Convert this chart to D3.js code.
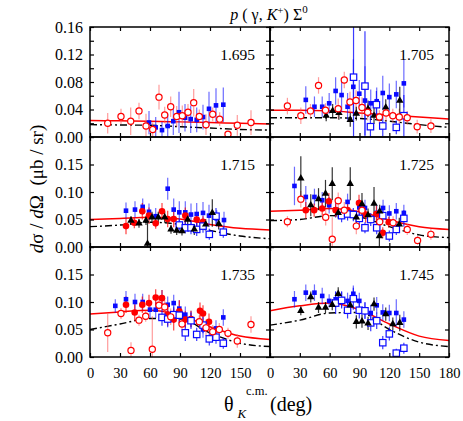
<!DOCTYPE html>
<html><head><meta charset="utf-8">
<script src="https://cdn.jsdelivr.net/npm/d3@7"></script>
<style>body{margin:0;background:#fff}</style>
</head><body><svg id="c" width="463" height="421"></svg>
<script>
// ---------- DATA ([theta_deg, dsigma, error]) ----------
const energies = ["1.695","1.705","1.715","1.725","1.735","1.745"];
const xTicks = [0,30,60,90,120,150,180];
const yTicksTop = [0,0.02,0.04,0.06,0.08,0.10,0.12,0.14,0.16];
const yLabelsTop = [0,0.04,0.08,0.12,0.16];
const yTicksLow = [0,0.05,0.10,0.15,0.20];
const yLabelsLow = [0,0.05,0.10,0.15];
const modelAngles = [0,30,60,90,120,150,180];

const redModel_1695 = [0.024,0.0235,0.023,0.022,0.021,0.020,0.019];
const blackModel_1695 = [0.018,0.0175,0.017,0.015,0.013,0.011,0.010];
const redModel_1705 = [0.039,0.039,0.038,0.035,0.032,0.029,0.026];
const blackModel_1705 = [0.028,0.028,0.028,0.027,0.023,0.018,0.014];
const redModel_1715 = [0.050,0.052,0.054,0.051,0.041,0.034,0.031];
const blackModel_1715 = [0.037,0.040,0.045,0.041,0.030,0.020,0.015];
const redModel_1725 = [0.065,0.067,0.070,0.064,0.049,0.037,0.032];
const blackModel_1725 = [0.048,0.050,0.057,0.054,0.037,0.022,0.017];
const redModel_1735 = [0.078,0.082,0.085,0.076,0.055,0.038,0.032];
const blackModel_1735 = [0.050,0.060,0.070,0.069,0.044,0.025,0.019];
const redModel_1745 = [0.084,0.093,0.098,0.086,0.060,0.038,0.030];
const blackModel_1745 = [0.058,0.067,0.080,0.081,0.050,0.027,0.019];

const redOpen_1695 = [[17.7,0.020,0.015],[31,0.030,0.011],[40.7,0.023,0.02],[49,0.038,0.012],[56,0.016,0.018],[62.7,0.011,0.010],[69,0.058,0.018],[74.7,0.032,0.012],[80.7,0.044,0.015],[86.7,0.030,0.015],[92.3,0.031,0.015],[98,0.036,0.012],[103.7,0.050,0.02],[109.3,0.030,0.010],[116,0.018,0.015],[122.7,0.033,0.010],[129.7,0.026,0.010],[138,0.004,0.003],[147.3,0.017,0.015],[161,0.021,0.018]];
const blueFill_1695 = [[59,0.021,0.017],[65.7,0.014,0.015],[72,0.010,0.012],[77.7,0.016,0.018],[83.3,0.023,0.02],[89,0.036,0.03],[95,0.028,0.02],[100.7,0.026,0.02],[106.7,0.025,0.018],[113,0.029,0.018],[119,0.041,0.025],[126,0.046,0.025],[133.3,0.047,0.025]];

const redOpen_1705 = [[17.5,0.045,0.012],[31,0.031,0.012],[40.7,0.038,0.010],[48.8,0.075,0.012],[55.8,0.039,0.010],[68.6,0.041,0.015],[74.7,0.083,0.012],[80.4,0.051,0.015],[86.5,0.053,0.015],[92.5,0.043,0.015],[98.2,0.036,0.012],[110,0.029,0.010],[116.7,0.035,0.012],[123.5,0.031,0.010],[130,0.029,0.012],[138,0.028,0.010],[148,0.015,0.010],[161.8,0.016,0.010]];
const blueFill_1705 = [[36,0.054,0.02],[44.7,0.044,0.015],[52.5,0.044,0.015],[59.5,0.049,0.015],[66,0.067,0.02],[72,0.061,0.025],[78,0.044,0.02],[83.8,0.073,0.04],[89.8,0.063,0.02],[95.5,0.053,0.05],[101.3,0.049,0.02],[107.3,0.052,0.02],[113.4,0.064,0.025],[120,0.058,0.02],[127,0.062,0.02],[134.6,0.078,0.035]];
const blueOpen_1705 = [[84,0.087,0.09],[95.5,0.074,0.08],[107,0.047,0.02],[101,0.015,0.015],[113.4,0.016,0.015],[127,0.014,0.01],[134.6,0.031,0.03]];
const tri_1705 = [[56.5,0.031,0.008],[63,0.038,0.010],[69.3,0.035,0.010],[80.7,0.025,0.010],[86.8,0.034,0.010],[98.6,0.041,0.012],[104.6,0.031,0.012],[116.4,0.043,0.012],[130.5,0.053,0.02]];

const redFill_1715 = [[36,0.038,0.015],[44.3,0.044,0.010],[52.3,0.065,0.015],[59,0.057,0.015],[65.7,0.043,0.010],[72,0.065,0.015],[77.7,0.051,0.015],[83.7,0.051,0.015],[95.3,0.057,0.015],[106.7,0.050,0.012],[113,0.046,0.010]];
const blueFill_1715 = [[36,0.066,0.015],[45,0.068,0.015],[52.7,0.073,0.015],[59,0.064,0.015],[65.7,0.056,0.015],[77.7,0.106,0.02],[83.7,0.068,0.02],[89.3,0.063,0.02],[95.3,0.063,0.02],[101,0.059,0.02],[106.7,0.060,0.02],[113,0.062,0.02],[119,0.057,0.02],[126.7,0.052,0.015],[134,0.049,0.015]];
const blueOpen_1715 = [[89.3,0.040,0.010],[95.3,0.035,0.010],[101,0.035,0.012],[106.7,0.032,0.012],[113,0.038,0.012],[119.3,0.023,0.010],[126,0.056,0.015],[133.3,0.027,0.010]];
const tri_1715 = [[41,0.048,0.008],[49,0.043,0.008],[56,0.048,0.008],[57.5,0.006,0.04],[62,0.054,0.010],[68.3,0.054,0.010],[74.7,0.054,0.010],[81,0.032,0.008],[86.7,0.030,0.008],[92,0.029,0.008],[97.7,0.050,0.012],[104.3,0.032,0.010],[115.7,0.041,0.010],[122.3,0.062,0.025],[128.7,0.042,0.010]];

const redOpen_1725 = [[17.5,0.046,0.010],[31,0.087,0.015],[56,0.054,0.015],[62.6,0.014,0.04],[68.6,0.084,0.015],[74.7,0.067,0.015],[86.8,0.038,0.015],[92.5,0.067,0.015],[110.3,0.046,0.015],[123.8,0.044,0.012],[138,0.032,0.010],[148.4,0.012,0.008],[161.8,0.023,0.010]];
const redFill_1725 = [[36,0.067,0.015],[44.4,0.067,0.012],[52.5,0.070,0.012],[59.2,0.083,0.015],[66,0.067,0.012],[78,0.067,0.015],[89.5,0.080,0.015],[96.2,0.059,0.015],[107,0.060,0.015],[113.4,0.026,0.010],[119.4,0.045,0.010]];
const blueFill_1725 = [[24.6,0.111,0.035],[36,0.091,0.02],[44.7,0.091,0.015],[52.5,0.085,0.015],[59.5,0.076,0.015],[66,0.068,0.015],[78,0.082,0.015],[89.8,0.072,0.015],[95.5,0.071,0.015],[107.3,0.062,0.015],[113.7,0.071,0.015],[120,0.061,0.015],[127,0.065,0.015],[134.6,0.062,0.015]];
const blueOpen_1725 = [[72,0.057,0.012],[78,0.060,0.012],[83.8,0.059,0.012],[89.8,0.052,0.012],[95.5,0.035,0.010],[101.3,0.050,0.012],[107.3,0.035,0.012],[113.4,0.057,0.012],[120,0.020,0.010],[127,0.032,0.010],[134.6,0.052,0.015]];
const tri_1725 = [[31,0.125,0.04],[41,0.076,0.02],[48.8,0.087,0.02],[55.8,0.097,0.025],[62.6,0.115,0.03],[68.6,0.062,0.010],[80.7,0.115,0.03],[86.8,0.054,0.010],[92.5,0.078,0.02],[98.6,0.058,0.012],[104.6,0.079,0.03],[110.3,0.065,0.012],[110,0.020,0.02],[130,0.041,0.012]];

const redOpen_1735 = [[17.7,0.044,0.035],[31,0.079,0.010],[41,0.012,0.015],[49,0.067,0.010],[55.7,0.074,0.010],[62.3,0.014,0.06],[69,0.094,0.012],[74.7,0.091,0.012],[80.7,0.073,0.015],[92,0.060,0.015],[109.3,0.064,0.012],[116,0.053,0.015],[122.7,0.046,0.012],[129.3,0.050,0.012],[138,0.043,0.010],[147.3,0.029,0.012],[161,0.059,0.015]];
const redFill_1735 = [[36,0.095,0.015],[44.7,0.081,0.015],[52.3,0.095,0.015],[59,0.098,0.015],[65.7,0.108,0.015],[72,0.107,0.015],[77.7,0.077,0.02],[83.7,0.068,0.02],[89.3,0.083,0.02],[95.3,0.068,0.015],[101,0.069,0.015],[110,0.084,0.015],[113,0.079,0.015],[119,0.064,0.015]];
const blueFill_1735 = [[25.3,0.093,0.012],[36,0.105,0.015],[45,0.100,0.015],[52.7,0.100,0.015],[60,0.086,0.015],[65.7,0.086,0.015],[72,0.107,0.015],[77.7,0.095,0.015],[83.7,0.098,0.015],[89.3,0.088,0.015],[95.3,0.077,0.015],[101,0.069,0.015],[113,0.050,0.015],[126,0.052,0.015],[133.3,0.072,0.015]];
const blueOpen_1735 = [[72,0.072,0.015],[77.7,0.069,0.015],[83.7,0.077,0.015],[89.3,0.076,0.015],[95.3,0.044,0.015],[101,0.066,0.015],[106.7,0.041,0.012],[113,0.058,0.015],[119.3,0.033,0.012],[126,0.036,0.012],[133.3,0.025,0.010]];

const blueFill_1745 = [[24.6,0.105,0.015],[36,0.117,0.015],[44.7,0.117,0.015],[52.5,0.111,0.015],[59.5,0.102,0.012],[66,0.105,0.015],[72,0.105,0.015],[78,0.102,0.015],[83.8,0.115,0.015],[89.8,0.102,0.015],[95.5,0.085,0.015],[101.3,0.080,0.015],[107.3,0.094,0.015],[113.4,0.081,0.015],[120,0.080,0.015],[127,0.080,0.025],[134.6,0.068,0.015]];
const blueOpen_1745 = [[66,0.098,0.02],[72,0.103,0.015],[78,0.085,0.015],[83.8,0.106,0.02],[89.8,0.085,0.015],[95.5,0.084,0.015],[101.3,0.062,0.015],[107.3,0.066,0.015],[113.4,0.026,0.012],[120,0.042,0.012],[127,0.007,0.008],[134.6,0.016,0.010]];
const tri_1745 = [[31,0.084,0.008],[41,0.109,0.010],[48.8,0.090,0.010],[55.8,0.090,0.010],[62.6,0.095,0.010],[68.6,0.115,0.012],[80.7,0.094,0.015],[86.8,0.064,0.012],[92.5,0.065,0.012],[98.6,0.061,0.012],[104.6,0.096,0.012],[116.4,0.078,0.012],[123.5,0.060,0.012],[130.5,0.062,0.015]];

// ---------- PANEL TABLE ----------
const panels = [
  {e:energies[0], row:0, col:0, redModel:redModel_1695, blackModel:blackModel_1695, redOpen:redOpen_1695, redFill:[], blueFill:blueFill_1695, blueOpen:[], tri:[]},
  {e:energies[1], row:0, col:1, redModel:redModel_1705, blackModel:blackModel_1705, redOpen:redOpen_1705, redFill:[], blueFill:blueFill_1705, blueOpen:blueOpen_1705, tri:tri_1705},
  {e:energies[2], row:1, col:0, redModel:redModel_1715, blackModel:blackModel_1715, redOpen:[], redFill:redFill_1715, blueFill:blueFill_1715, blueOpen:blueOpen_1715, tri:tri_1715},
  {e:energies[3], row:1, col:1, redModel:redModel_1725, blackModel:blackModel_1725, redOpen:redOpen_1725, redFill:redFill_1725, blueFill:blueFill_1725, blueOpen:blueOpen_1725, tri:tri_1725},
  {e:energies[4], row:2, col:0, redModel:redModel_1735, blackModel:blackModel_1735, redOpen:redOpen_1735, redFill:redFill_1735, blueFill:blueFill_1735, blueOpen:blueOpen_1735, tri:[]},
  {e:energies[5], row:2, col:1, redModel:redModel_1745, blackModel:blackModel_1745, redOpen:[], redFill:[], blueFill:blueFill_1745, blueOpen:blueOpen_1745, tri:tri_1745},
];

// ---------- LAYOUT ----------
const FONT = "'Liberation Serif', 'Times New Roman', monospace";
const svg = d3.select("#c");
const colX = [90, 270], colW = [180, 179];
const rowY = [27, 137, 247], rowH = 110;
const RED = "#ff0000", BLUE = "#0a0aff";

panels.forEach((p, i) => {
  const w = colW[p.col], h = rowH;
  const g = svg.append("g").attr("transform", `translate(${colX[p.col]},${rowY[p.row]})`);
  const x = d3.scaleLinear().domain([0,180]).range([0,w]);
  const yDom = p.row === 0 ? [0,0.16] : [0,0.20];
  const y = d3.scaleLinear().domain(yDom).range([h,0]);
  const clipId = "clip"+i;
  g.append("clipPath").attr("id", clipId).append("rect").attr("width", w).attr("height", h);
  const plot = g.append("g").attr("clip-path", `url(#${clipId})`);

  const line = d3.line().x(d => x(d[0])).y(d => y(d[1])).curve(d3.curveMonotoneX);
  plot.append("path").datum(modelAngles.map((a,k)=>[a,p.redModel[k]]))
    .attr("d", line).attr("fill","none").attr("stroke",RED).attr("stroke-width",1.5);
  plot.append("path").datum(modelAngles.map((a,k)=>[a,p.blackModel[k]]))
    .attr("d", line).attr("fill","none").attr("stroke","#000").attr("stroke-width",1.4)
    .attr("stroke-dasharray","7,3,2,3");

  function errBars(data, color, op) {
    plot.append("g").selectAll("line").data(data).join("line")
      .attr("x1", d=>x(d[0])).attr("x2", d=>x(d[0]))
      .attr("y1", d=>y(d[1]-d[2])).attr("y2", d=>y(d[1]+d[2]))
      .attr("stroke", color).attr("stroke-width", 1.2).attr("stroke-opacity", op);
  }
  errBars(p.redOpen, "#ff5a5a", 0.6);
  errBars(p.blueFill, BLUE, 0.6);
  errBars(p.redFill, RED, 0.75);
  errBars(p.blueOpen, BLUE, 0.8);
  errBars(p.tri, "#000", 0.8);

  plot.append("g").selectAll("rect").data(p.blueFill).join("rect")
    .attr("x", d=>x(d[0])-2.3).attr("y", d=>y(d[1])-2.3).attr("width",4.6).attr("height",4.6)
    .attr("fill", BLUE);
  plot.append("g").selectAll("circle").data(p.redFill).join("circle")
    .attr("cx", d=>x(d[0])).attr("cy", d=>y(d[1])).attr("r", 3.3).attr("fill", RED);
  plot.append("g").selectAll("rect").data(p.blueOpen).join("rect")
    .attr("x", d=>x(d[0])-3.2).attr("y", d=>y(d[1])-3.2).attr("width",6.4).attr("height",6.4)
    .attr("fill","#fff").attr("stroke", BLUE).attr("stroke-width",1.2);
  const triSym = d3.symbol().type(d3.symbolTriangle).size(24);
  plot.append("g").selectAll("path").data(p.tri).join("path")
    .attr("transform", d=>`translate(${x(d[0])},${y(d[1])})`).attr("d", triSym).attr("fill","#000");
  plot.append("g").selectAll("circle").data(p.redOpen).join("circle")
    .attr("cx", d=>x(d[0])).attr("cy", d=>y(d[1])).attr("r", 3.1)
    .attr("fill","#fff").attr("stroke", RED).attr("stroke-width",1.2);

  // axes (inward ticks on all sides)
  const yTicks = p.row === 0 ? yTicksTop : yTicksLow;
  const yLabels = p.row === 0 ? yLabelsTop : yLabelsLow;
  const fmt2 = d3.format(".2f");
  const near = (v, arr) => arr.some(a => Math.abs(a - v) < 1e-9);
  const clean = sel => { sel.attr("font-family", null); sel.select(".domain").remove(); sel.selectAll(".tick line").attr("stroke","#000").attr("stroke-width",1.2); };

  g.append("g").call(d3.axisLeft(y).tickValues(yTicks).tickSize(-4).tickSizeOuter(0).tickPadding(7)
      .tickFormat(v => (p.col === 0 && near(v, yLabels)) ? fmt2(v) : ""))
    .call(clean)
    .call(s => s.selectAll("text").attr("font-size", 16).attr("fill","#000"));
  g.append("g").attr("transform", `translate(${w},0)`)
    .call(d3.axisRight(y).tickValues(yTicks).tickSize(-4).tickSizeOuter(0).tickFormat(() => ""))
    .call(clean);
  g.append("g")
    .call(d3.axisTop(x).tickValues(xTicks).tickSize(-4).tickSizeOuter(0).tickFormat(() => ""))
    .call(clean);
  const xLabelVals = p.col === 0 ? xTicks.slice(0, 6) : xTicks;
  g.append("g").attr("transform", `translate(0,${h})`)
    .call(d3.axisBottom(x).tickValues(xTicks).tickSize(-4).tickSizeOuter(0).tickPadding(11)
      .tickFormat(v => (p.row === 2 && xLabelVals.includes(v)) ? String(v) : ""))
    .call(clean)
    .call(s => s.selectAll("text").attr("font-size", 14.5).attr("fill","#000"));

  g.append("rect").attr("width", w).attr("height", h).attr("fill","none")
    .attr("stroke","#000").attr("stroke-width",1.5);

  g.append("text").attr("x", w - 15).attr("y", 33).attr("text-anchor","end")
    .attr("font-size", 15.5).text(p.e);
});

// ---------- TITLE ----------
const title = svg.append("text").attr("x", 269).attr("y", 20).attr("text-anchor","middle").attr("font-size", 16);
title.append("tspan").attr("font-style","italic").text("p");
title.append("tspan").text(" ( γ, ");
title.append("tspan").attr("font-style","italic").text("K");
title.append("tspan").attr("dy", -6).attr("font-size", 11).text("+");
title.append("tspan").attr("dy", 6).text(") Σ");
title.append("tspan").attr("dy", -7).attr("font-size", 11).text("0");

// ---------- Y LABEL ----------
const yl = svg.append("text").attr("transform","translate(43,189) rotate(-90)")
  .attr("text-anchor","middle").attr("font-size", 19);
yl.append("tspan").attr("font-style","italic").text("d");
yl.append("tspan").text("σ / ");
yl.append("tspan").attr("font-style","italic").text("d");
yl.append("tspan").text("Ω\u00a0\u00a0(μb / sr)");

// ---------- X LABEL ----------
svg.append("text").attr("x", 224).attr("y", 411).attr("font-size", 20).text("θ");
svg.append("text").attr("x", 237.5).attr("y", 418).attr("font-size", 13).attr("font-style","italic").text("K");
svg.append("text").attr("x", 246).attr("y", 395).attr("font-size", 12.5).text("c.m.");
svg.append("text").attr("x", 270).attr("y", 411).attr("font-size", 20).text("(deg)");

svg.selectAll("text").style("font-family", FONT);
</script></body></html>
